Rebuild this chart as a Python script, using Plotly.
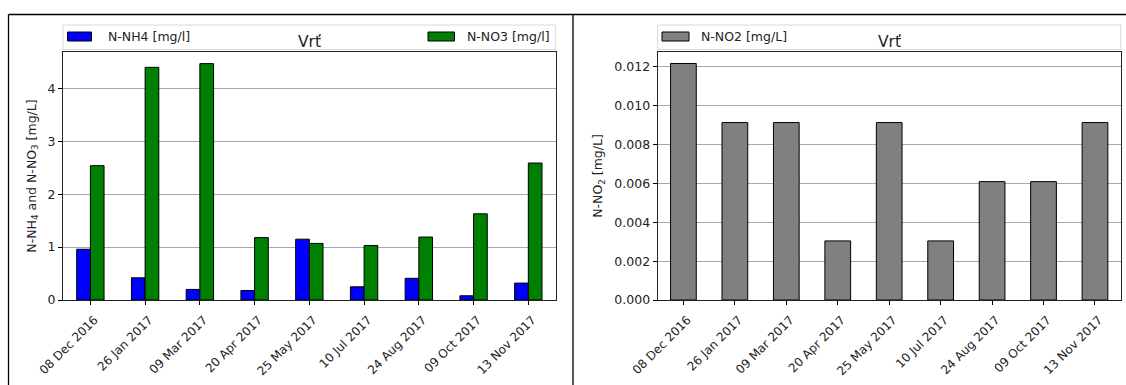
import plotly.graph_objects as go

# Sampling dates at Vrť
dates = ["08 Dec 2016", "26 Jan 2017", "09 Mar 2017", "20 Apr 2017", "25 May 2017",
         "10 Jul 2017", "24 Aug 2017", "09 Oct 2017", "13 Nov 2017"]

# Concentrations [mg/L]
n_nh4 = [0.96, 0.42, 0.20, 0.18, 1.15, 0.25, 0.41, 0.08, 0.32]
n_no3 = [2.54, 4.40, 4.47, 1.18, 1.07, 1.03, 1.19, 1.63, 2.59]
n_no2 = [0.01217, 0.00913, 0.00913, 0.00304, 0.00913, 0.00304, 0.00609, 0.00609, 0.00913]

W, H = 1126, 385
FONT = "DejaVu Sans"


def px(x):
    return x / W


def py(y):
    return 1 - y / H


fig = go.Figure()

# left panel: grouped NH4 / NO3 bars
fig.add_trace(go.Bar(x=dates, y=n_nh4, name="N-NH4 [mg/l]", width=0.25, offset=-0.25,
                     marker=dict(color="#0000ff", line=dict(color="black", width=1)),
                     xaxis="x", yaxis="y", showlegend=False))
fig.add_trace(go.Bar(x=dates, y=n_no3, name="N-NO3 [mg/l]", width=0.25, offset=0,
                     marker=dict(color="#008000", line=dict(color="black", width=1)),
                     xaxis="x", yaxis="y", showlegend=False))
# right panel: NO2 bars
fig.add_trace(go.Bar(x=dates, y=n_no2, name="N-NO2 [mg/L]", width=0.5,
                     marker=dict(color="#808080", line=dict(color="black", width=1)),
                     xaxis="x2", yaxis="y2", showlegend=False))

left_dom = [px(63), px(555.7)]
right_dom = [px(657.7), px(1120.7)]
y_dom = [py(300), py(52)]

xcommon = dict(type="category", range=[-0.5, 8.5], tickangle=-45, ticks="outside",
               ticklen=4, tickcolor="black", showgrid=False, showline=True,
               linecolor="#222", linewidth=1.2, mirror=True, automargin=False,
               ticklabelshift=4, ticklabelstandoff=3,
               tickfont=dict(family=FONT, size=12, color="#222"))
ycommon = dict(ticks="outside", ticklen=4, tickcolor="black", showgrid=True,
               gridcolor="#a8a8a8", gridwidth=1, showline=True, linecolor="#222",
               linewidth=1.2, mirror=True, zeroline=False, automargin=False,
               tickfont=dict(family=FONT, size=12.5, color="#222"))

fig.update_layout(
    width=W, height=H, autosize=False,
    margin=dict(l=0, r=0, t=0, b=0, pad=0, autoexpand=False),
    paper_bgcolor="white", plot_bgcolor="white",
    showlegend=False,
    font=dict(family=FONT, color="#222"),
    xaxis=dict(domain=left_dom, anchor="y", **xcommon),
    xaxis2=dict(domain=right_dom, anchor="y2", **xcommon),
    yaxis=dict(domain=y_dom, anchor="x", range=[0, 4.69], dtick=1,
               title=dict(text="N-NH<sub>4</sub> and N-NO<sub>3</sub> [mg/L]",
                          font=dict(family=FONT, size=12.5), standoff=8),
               **ycommon),
    yaxis2=dict(domain=y_dom, anchor="x2", range=[0, 0.01276], dtick=0.002,
                tickformat=".3f",
                title=dict(text="N-NO<sub>2</sub> [mg/L]",
                           font=dict(family=FONT, size=12.5), standoff=8),
                **ycommon),
)

shapes = []
annotations = []

# panel frames
shapes.append(dict(type="line", xref="paper", yref="paper", x0=px(8.5), x1=1.0,
                   y0=py(14.5), y1=py(14.5), line=dict(color="black", width=1.3)))
for xv in (8.5, 573):
    shapes.append(dict(type="line", xref="paper", yref="paper", x0=px(xv), x1=px(xv),
                       y0=py(14.5), y1=0, line=dict(color="black", width=1.3)))

# legend boxes
for (x0, x1) in ((63, 555.7), (657.7, 1120.7)):
    shapes.append(dict(type="rect", xref="paper", yref="paper", x0=px(x0), x1=px(x1),
                       y0=py(49.5), y1=py(25), fillcolor="rgba(255,255,255,0.8)",
                       line=dict(color="#d8d8d8", width=1), layer="above"))

legend_items = [
    (67.5, 91.5, "#0000ff", 106, "N-NH4 [mg/l]"),
    (428, 454.5, "#008000", 465, "N-NO3 [mg/l]"),
    (662, 689, "#808080", 699, "N-NO2 [mg/L]"),
]
for x0, x1, col, tx, label in legend_items:
    shapes.append(dict(type="rect", xref="paper", yref="paper", x0=px(x0), x1=px(x1),
                       y0=py(41), y1=py(32), fillcolor=col,
                       line=dict(color="black", width=1), layer="above"))
    annotations.append(dict(x=px(tx), y=py(36.5), xref="paper", yref="paper",
                            text=label, showarrow=False, xanchor="left", yanchor="middle",
                            font=dict(family=FONT, size=12.5, color="#222")))

# panel titles
for cx in ((63 + 555.7) / 2, (657.7 + 1120.7) / 2):
    annotations.append(dict(x=px(cx), y=py(42.5), xref="paper", yref="paper",
                            text="Vrť", showarrow=False, xanchor="center",
                            yanchor="middle",
                            font=dict(family=FONT, size=15.5, color="#222")))

fig.update_layout(shapes=shapes, annotations=annotations)

fig.write_html("out.html")
